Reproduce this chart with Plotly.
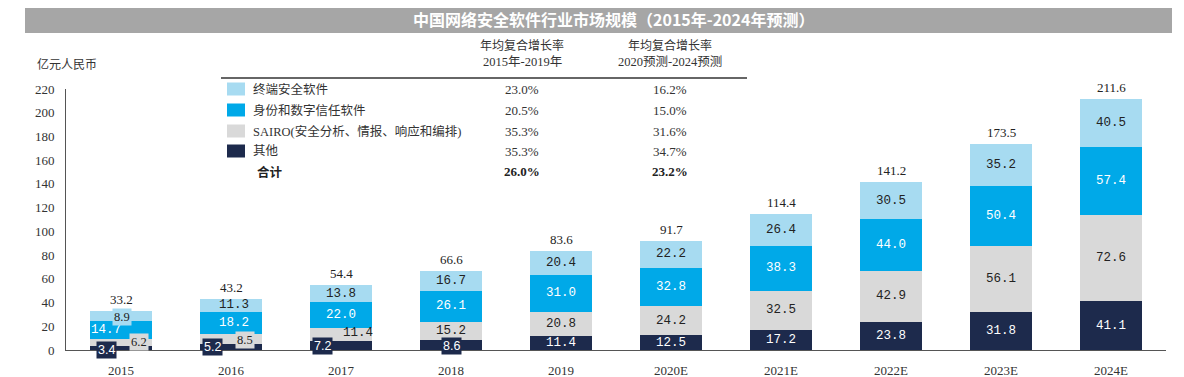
import plotly.graph_objects as go

# ---------------- data ----------------
categories = ["2015", "2016", "2017", "2018", "2019", "2020E", "2021E", "2022E", "2023E", "2024E"]
other = [3.4, 5.2, 7.2, 8.6, 11.4, 12.5, 17.2, 23.8, 31.8, 41.1]
sairo = [6.2, 8.5, 11.4, 15.2, 20.8, 24.2, 32.5, 42.9, 56.1, 72.6]
identity = [14.7, 18.2, 22.0, 26.1, 31.0, 32.8, 38.3, 44.0, 50.4, 57.4]
endpoint = [8.9, 11.3, 13.8, 16.7, 20.4, 22.2, 26.4, 30.5, 35.2, 40.5]
totals = [33.2, 43.2, 54.4, 66.6, 83.6, 91.7, 114.4, 141.2, 173.5, 211.6]
y_ticks = [0, 20, 40, 60, 80, 100, 120, 140, 160, 180, 200, 220]

legend_names = ["终端安全软件", "身份和数字信任软件", "SAIRO(安全分析、情报、响应和编排)", "其他"]
cagr_1519 = ["23.0%", "20.5%", "35.3%", "35.3%"]
cagr_2024 = ["16.2%", "15.0%", "31.6%", "34.7%"]
total_name = "合计"
total_cagr_1519 = "26.0%"
total_cagr_2024 = "23.2%"
header_top = "年均复合增长率"
header_1519 = "2015年-2019年"
header_2024 = "2020预测-2024预测"
unit_label = "亿元人民币"
title = "中国网络安全软件行业市场规模（2015年-2024年预测）"

# ---------------- styles ----------------
C_LIGHT = "#a7dbf1"
C_BLUE = "#00a9e8"
C_GRAY = "#d9d9d9"
C_NAVY = "#1d2a4c"
SERIF = "Liberation Serif, Noto Sans CJK SC"
MONO = "Liberation Mono"
CJK = "Noto Sans CJK SC"

# the page body adds an 8px offset, so the figure is laid out 8px up/left
W, H = 1176, 369
OFF = 8
PLOT_L, PLOT_R, PLOT_T, PLOT_B = 66, 1166, 89, 350  # target pixel box (page coords)
ML, MT = PLOT_L - OFF, PLOT_T - OFF
MR, MB = W - (PLOT_R - OFF), H - (PLOT_B - OFF)
PW, PH = PLOT_R - PLOT_L, PLOT_B - PLOT_T


def px(x):
    return (x - PLOT_L) / PW


def py(y):
    return (PLOT_B - y) / PH


series = [
    ("其他", other, C_NAVY, "white"),
    ("SAIRO", sairo, C_GRAY, "#222222"),
    ("身份", identity, C_BLUE, "white"),
    ("终端", endpoint, C_LIGHT, "#222222"),
]

# label tweaks: (category index, series index) -> (xshift, yshift, bgcolor, font)
label_style = {
    (0, 0): (-15, -2, C_NAVY, "Liberation Sans"),
    (0, 1): (18, 0, C_GRAY, "Liberation Serif"),
    (0, 2): (-15, 0, None, MONO),
    (0, 3): (1, -1, C_LIGHT, "Liberation Serif"),
    (1, 0): (-19, 0, C_NAVY, "Liberation Sans"),
    (1, 1): (14, -1, C_GRAY, "Liberation Serif"),
    (1, 2): (3, 0, None, MONO),
    (1, 3): (3, 0, None, MONO),
    (2, 0): (-19, 0, C_NAVY, "Liberation Sans"),
    (2, 1): (17, 2, None, MONO),
    (3, 0): (0, -1, C_NAVY, "Liberation Sans"),
}

fig = go.Figure()
for name, vals, color, _ in series:
    fig.add_trace(go.Bar(
        x=categories, y=vals, name=name, marker=dict(color=color, line=dict(width=0)),
        width=0.555, showlegend=False, hoverinfo="skip",
    ))

annotations = []
for i, cat in enumerate(categories):
    base = 0.0
    for s, (name, vals, color, tcolor) in enumerate(series):
        v = vals[i]
        xs, ys, bg, fam = label_style.get((i, s), (0, 0, None, MONO))
        ann = dict(x=i, y=base + v / 2, xref="x", yref="y", text=f"{v:.1f}",
                   showarrow=False, xshift=xs, yshift=ys, xanchor="center", yanchor="middle",
                   font=dict(family=fam, size=12.5, color=tcolor))
        if bg:
            ann.update(bgcolor=bg, borderpad=1)
        annotations.append(ann)
        base += v
    annotations.append(dict(x=i, y=totals[i], xref="x", yref="y", text=f"{totals[i]:.1f}",
                            showarrow=False, xanchor="center", yanchor="bottom", yshift=2,
                            font=dict(family=SERIF, size=13, color="#222222")))


def note(x, y, text, family, size, color="#333333", xanchor="center"):
    annotations.append(dict(xref="paper", yref="paper", x=px(x), y=py(y), text=text,
                            showarrow=False, xanchor=xanchor, yanchor="middle",
                            font=dict(family=family, size=size, color=color)))


shapes = []
# title bar
shapes.append(dict(type="rect", xref="paper", yref="paper", x0=px(25), x1=px(1172), y0=py(33), y1=py(5),
                   fillcolor="#a6a6a6", line=dict(width=0), layer="below"))
note(613, 19, f"<b>{title}</b>", CJK, 16, "white")
note(35, 63, unit_label, CJK, 12, "#333333", "left")

# legend table
shapes.append(dict(type="line", xref="paper", yref="paper", x0=px(221), x1=px(747), y0=py(78), y1=py(78),
                   line=dict(color="#333333", width=1.5)))
note(522, 45, header_top, CJK, 12)
note(522, 62, header_1519, SERIF, 12.5)
note(670, 45, header_top, CJK, 12)
note(670, 62, header_2024, SERIF, 12.5)

legend_colors = [C_LIGHT, C_BLUE, C_GRAY, C_NAVY]
row_y = [89, 110, 131, 151]
for k, nm in enumerate(legend_names):
    yc = row_y[k]
    shapes.append(dict(type="rect", xref="paper", yref="paper", x0=px(227), x1=px(245),
                       y0=py(yc + 6.5), y1=py(yc - 6.5), fillcolor=legend_colors[k], line=dict(width=0)))
    note(251, yc, nm, SERIF, 12.5, "#333333", "left")
    note(522, yc, cagr_1519[k], SERIF, 13)
    note(670, yc, cagr_2024[k], SERIF, 13)
yc = 171
note(255, yc, f"<b>{total_name}</b>", CJK, 12.5, "#222222", "left")
note(522, yc, f"<b>{total_cagr_1519}</b>", SERIF, 13, "#222222")
note(670, yc, f"<b>{total_cagr_2024}</b>", SERIF, 13, "#222222")

fig.update_layout(
    width=W, height=H, autosize=False, barmode="stack", bargap=0.445,
    margin=dict(l=ML, r=MR, t=MT, b=MB, pad=0),
    paper_bgcolor="white", plot_bgcolor="white",
    annotations=annotations, shapes=shapes,
    xaxis=dict(type="category", range=[-0.5, 9.5], showline=True, linecolor="#555555", linewidth=1,
               ticks="", showgrid=False, zeroline=False, ticklabelstandoff=8, automargin=False,
               tickfont=dict(family=SERIF, size=13, color="#333333")),
    yaxis=dict(range=[0, 220], tickvals=y_ticks, showline=True, linecolor="#555555", linewidth=1,
               ticks="", showgrid=False, zeroline=False, ticklabelstandoff=8, automargin=False,
               tickfont=dict(family=SERIF, size=13, color="#333333")),
)

fig.write_html("out.html")
